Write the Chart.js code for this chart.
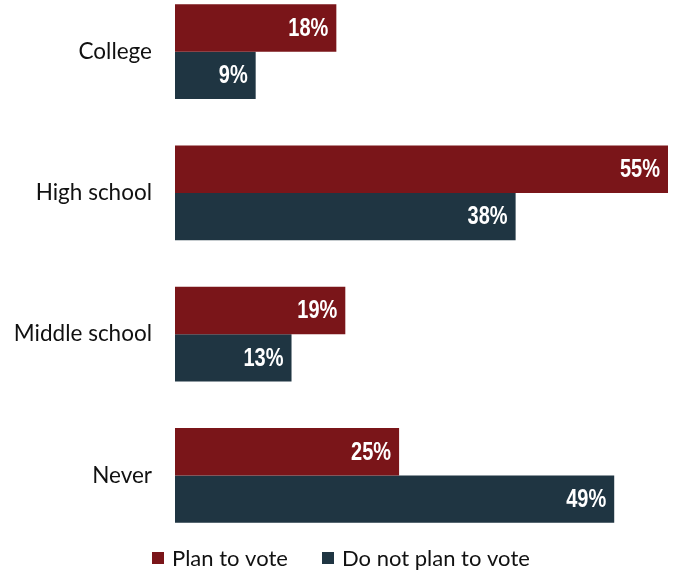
<!DOCTYPE html>
<html>
<head>
<meta charset="utf-8">
<script src="https://cdn.jsdelivr.net/npm/chart.js@4/dist/chart.umd.min.js"></script>
<style>
  html, body { margin: 0; padding: 0; background: #fff; overflow: hidden; }
  #wrap { position: absolute; left: 0; top: -19px; width: 673px; height: 596px; }
</style>
</head>
<body>
<div id="wrap"><canvas id="chart"></canvas></div>
<script>
// levels and shares
const levels = ['College', 'High school', 'Middle school', 'Never'];
const planToVote = [18, 55, 19, 25];
const notPlanToVote = [9, 38, 13, 49];

const RED = '#7a1519';
const NAVY = '#1f3542';
const TEXT_FONT = 'Lato, "Open Sans", sans-serif';

// white percentage text at the inner end of each bar (squeezed to look condensed)
const valueLabels = {
  id: 'valueLabels',
  afterDatasetsDraw(chart) {
    const ctx = chart.ctx;
    chart.data.datasets.forEach((ds, i) => {
      chart.getDatasetMeta(i).data.forEach((bar, j) => {
        ctx.save();
        ctx.translate(bar.x - 8, bar.y + 1);
        ctx.scale(0.8, 1);
        ctx.font = 'bold 25px "Liberation Sans", Arial, sans-serif';
        ctx.fillStyle = '#fff';
        ctx.textAlign = 'right';
        ctx.textBaseline = 'middle';
        ctx.fillText(ds.data[j] + '%', 0, 0);
        ctx.restore();
      });
    });
  }
};

// legend row under the bars
const bottomLegend = {
  id: 'bottomLegend',
  afterDraw(chart) {
    const ctx = chart.ctx;
    const y = chart.chartArea.bottom + 12;
    const starts = [152, 322];
    ctx.save();
    ctx.font = '22px ' + TEXT_FONT;
    ctx.textBaseline = 'middle';
    chart.data.datasets.forEach((ds, i) => {
      const x = starts[i];
      ctx.fillStyle = ds.backgroundColor;
      ctx.fillRect(x, y - 6, 12, 12);
      ctx.fillStyle = '#111';
      ctx.fillText(ds.label, x + 20, y + 1);
    });
    ctx.restore();
  }
};

new Chart(document.getElementById('chart'), {
  type: 'bar',
  data: {
    labels: levels,
    datasets: [
      { label: 'Plan to vote', data: planToVote, backgroundColor: RED },
      { label: 'Do not plan to vote', data: notPlanToVote, backgroundColor: NAVY }
    ]
  },
  options: {
    indexAxis: 'y',
    responsive: true,
    maintainAspectRatio: false,
    animation: false,
    layout: { padding: { top: 0, right: 5, bottom: 31, left: 0 } },
    datasets: {
      bar: { barPercentage: 1, categoryPercentage: 0.67 }
    },
    scales: {
      x: { display: false, min: 0, max: 55 },
      y: {
        grid: { display: false },
        border: { display: false },
        ticks: {
          color: '#111',
          padding: 15,
          font: { family: TEXT_FONT, size: 22.5 }
        },
        afterFit(scale) {
          scale.width = 175;
          scale.paddingTop = 0;
          scale.paddingBottom = 0;
        }
      }
    },
    plugins: {
      legend: { display: false },
      tooltip: { enabled: false }
    }
  },
  plugins: [valueLabels, bottomLegend]
});
</script>
</body>
</html>
